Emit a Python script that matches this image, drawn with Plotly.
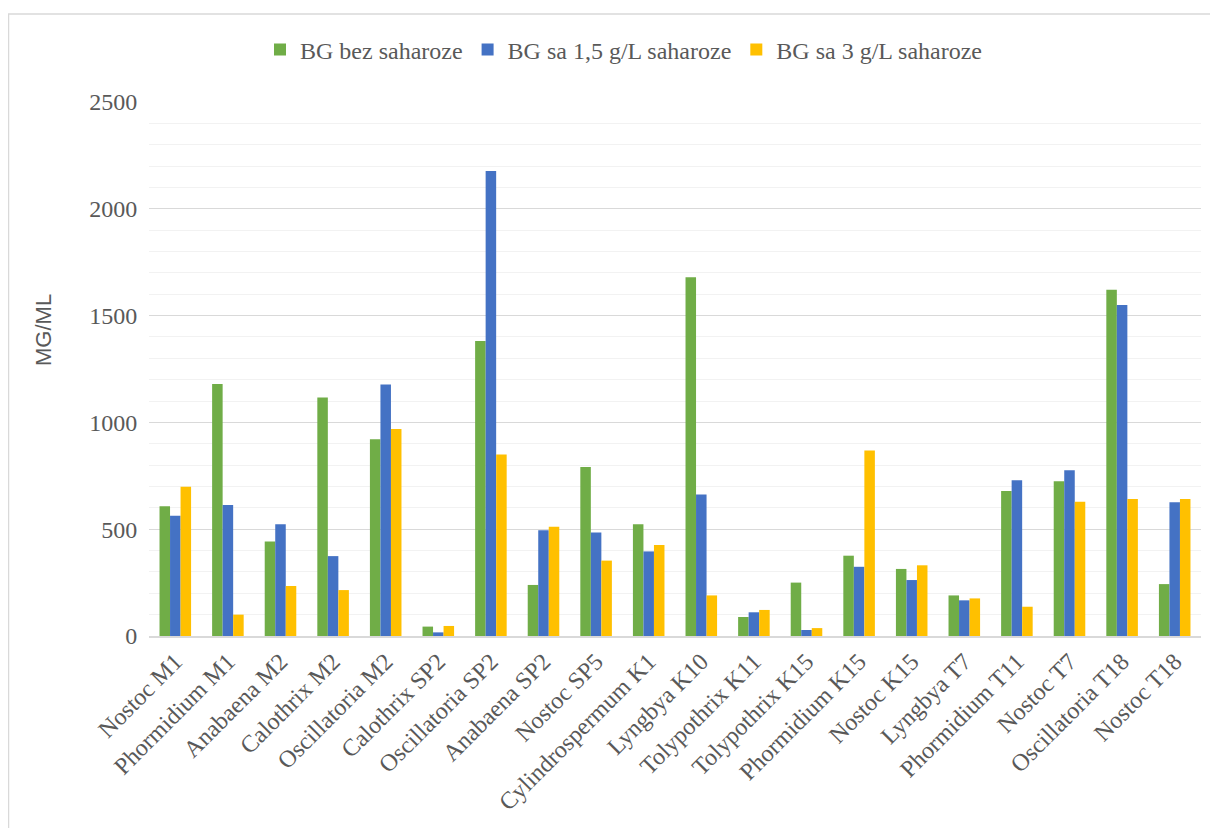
import plotly.graph_objects as go

categories = ["Nostoc M1", "Phormidium M1", "Anabaena M2", "Calothrix M2", "Oscillatoria M2",
              "Calothrix SP2", "Oscillatoria SP2", "Anabaena SP2", "Nostoc SP5", "Cylindrospermum K1",
              "Lyngbya K10", "Tolypothrix K11", "Tolypothrix K15", "Phormidium K15", "Nostoc K15",
              "Lyngbya T7", "Phormidium T11", "Nostoc T7", "Oscillatoria T18", "Nostoc T18"]

bez_saharoze = [608, 1180, 443, 1117, 921, 44, 1381, 239, 791, 523,
                1679, 89, 250, 376, 314, 190, 679, 724, 1621, 243]
sa_1_5 = [563, 613, 523, 374, 1177, 17, 2177, 495, 484, 396,
          663, 111, 28, 324, 262, 167, 729, 776, 1550, 626]
sa_3 = [699, 100, 234, 215, 969, 47, 850, 512, 353, 426,
        190, 122, 37, 869, 331, 176, 137, 629, 641, 641]

series_names = ["BG bez saharoze", "BG sa 1,5 g/L saharoze", "BG sa 3 g/L saharoze"]
colors = ["#70AD47", "#4472C4", "#FFC000"]

fig = go.Figure()
for name, vals, col in zip(series_names, [bez_saharoze, sa_1_5, sa_3], colors):
    fig.add_trace(go.Bar(x=categories, y=vals, name=name,
                         marker=dict(color=col, line=dict(width=0))))

OFF = 8  # page body margin
W, H = 1210, 820
L, R, T, B = 141, 17, 94, 192
pw, ph = W - L - R, H - T - B

def px_x(sx):
    return (sx - OFF - L) / pw

def px_y(sy):
    return (H - B - (sy - OFF)) / ph

serif = "Liberation Serif, Times New Roman, serif"
sans = "Liberation Sans, Arial, sans-serif"
grey = "#595959"
fig.update_layout(
    width=W, height=H,
    margin=dict(l=L, r=R, t=T, b=B),
    paper_bgcolor="white", plot_bgcolor="white",
    barmode="group", bargap=0.4, bargroupgap=0,
    font=dict(family=serif, size=24, color=grey),
    legend=dict(orientation="h", x=px_x(624), xanchor="center", y=px_y(50), yanchor="middle",
                font=dict(family=serif, size=24, color=grey),
                itemwidth=30, traceorder="normal"),
    xaxis=dict(tickangle=-45, showgrid=False, showline=True, linecolor="#d9d9d9", linewidth=2,
               ticks="", tickfont=dict(family=serif, size=24, color=grey)),
    yaxis=dict(range=[0, 2500], dtick=500, showgrid=True, gridcolor="#d9d9d9", gridwidth=1,
               zeroline=False, showline=False,
               ticks="outside", ticklen=6, tickcolor="rgba(0,0,0,0)",
               tickfont=dict(family=serif, size=24, color=grey),
               minor=dict(dtick=100, showgrid=True, gridcolor="#f2f2f2", gridwidth=1)),
    annotations=[
        dict(text="MG/ML", xref="paper", yref="paper", x=px_x(43), y=px_y(330),
             xanchor="center", yanchor="middle", textangle=-90, showarrow=False,
             font=dict(family=sans, size=22, color=grey)),
    ],
    shapes=[
        dict(type="line", xref="paper", yref="paper", x0=px_x(6), x1=px_x(1220), y0=px_y(14), y1=px_y(14),
             line=dict(color="#d9d9d9", width=1.5)),
        dict(type="line", xref="paper", yref="paper", x0=px_x(8.5), x1=px_x(8.5), y0=px_y(14), y1=px_y(830),
             line=dict(color="#d9d9d9", width=1.5)),
    ],
)

fig.write_html("out.html")
